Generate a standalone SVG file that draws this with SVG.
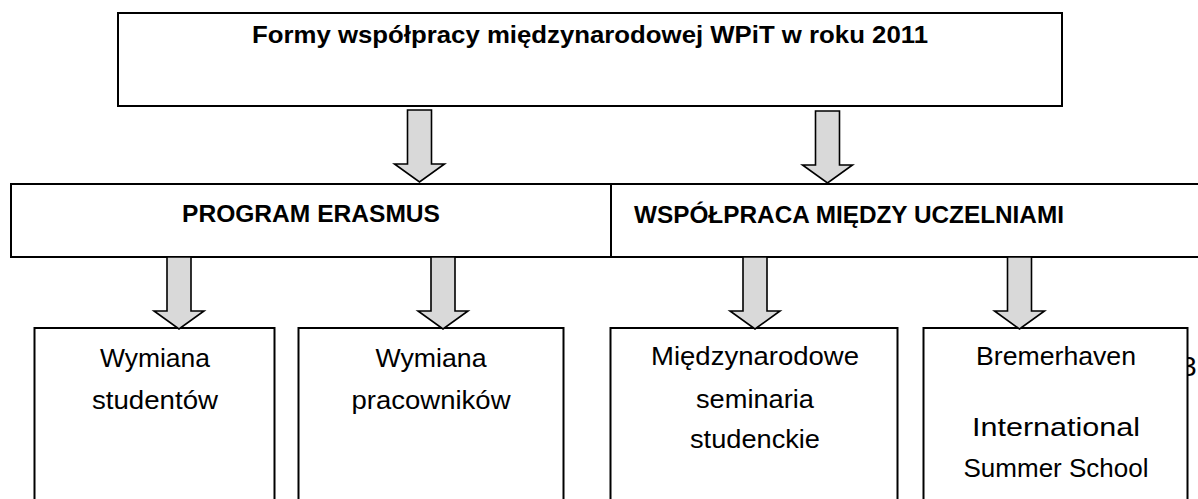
<svg xmlns="http://www.w3.org/2000/svg" width="1198" height="499" viewBox="0 0 1198 499">
  <style>
    .box { fill: #ffffff; stroke: #000000; stroke-width: 2; }
    .arrow { fill: #d9d9d9; stroke: #000000; stroke-width: 1.6; stroke-linejoin: miter; }
    .bold { font-family: "Liberation Sans", Arial, sans-serif; font-weight: bold; font-size: 24.5px; fill: #000000; }
    .reg { font-family: "Liberation Sans", Arial, sans-serif; font-size: 26px; fill: #000000; text-anchor: middle; }
  </style>
  <defs>
    <path id="arr" d="M -12 0 L 12 0 L 12 54 L 25 54 L 0 72 L -25 54 L -12 54 Z"/>
    <clipPath id="clip3">
      <rect x="1188" y="340" width="12" height="50"/>
    </clipPath>
  </defs>
  <rect width="1198" height="499" fill="#ffffff"/>

  <text x="1181" y="376" clip-path="url(#clip3)" style="font-family:'Liberation Sans',Arial,sans-serif;font-size:28px;fill:#000000">3</text>

  <g id="node-top">
    <rect class="box" x="118" y="13" width="944" height="93"/>
    <text class="bold" x="590" y="43" text-anchor="middle" textLength="676" lengthAdjust="spacingAndGlyphs">Formy współpracy międzynarodowej WPiT w roku 2011</text>
  </g>

  <g id="node-erasmus">
    <rect class="box" x="11" y="184" width="600" height="73"/>
    <text class="bold" x="311" y="222" text-anchor="middle" textLength="258" lengthAdjust="spacingAndGlyphs">PROGRAM ERASMUS</text>
  </g>

  <g id="node-wspolpraca">
    <rect class="box" x="611" y="184" width="600" height="73"/>
    <text class="bold" x="634" y="223" textLength="430" lengthAdjust="spacingAndGlyphs">WSPÓŁPRACA MIĘDZY UCZELNIAMI</text>
  </g>

  <g id="node-studenci">
    <rect class="box" x="34.5" y="328" width="240" height="190"/>
    <text class="reg" x="155" y="367" textLength="110" lengthAdjust="spacingAndGlyphs">Wymiana</text>
    <text class="reg" x="155" y="409" textLength="126" lengthAdjust="spacingAndGlyphs">studentów</text>
  </g>

  <g id="node-pracownicy">
    <rect class="box" x="298.5" y="328" width="265" height="190"/>
    <text class="reg" x="431" y="367" textLength="111" lengthAdjust="spacingAndGlyphs">Wymiana</text>
    <text class="reg" x="431" y="409" textLength="159" lengthAdjust="spacingAndGlyphs">pracowników</text>
  </g>

  <g id="node-seminaria">
    <rect class="box" x="610.5" y="328" width="287" height="190"/>
    <text class="reg" x="755" y="365" textLength="208" lengthAdjust="spacingAndGlyphs">Międzynarodowe</text>
    <text class="reg" x="755" y="408" textLength="118" lengthAdjust="spacingAndGlyphs">seminaria</text>
    <text class="reg" x="755" y="448" textLength="130" lengthAdjust="spacingAndGlyphs">studenckie</text>
  </g>

  <g id="node-bremerhaven">
    <rect class="box" x="923.5" y="328" width="264" height="190"/>
    <text class="reg" x="1056" y="365" textLength="160" lengthAdjust="spacingAndGlyphs">Bremerhaven</text>
    <text class="reg" x="1056" y="436" textLength="168" lengthAdjust="spacingAndGlyphs">International</text>
    <text class="reg" x="1056" y="477" textLength="185" lengthAdjust="spacingAndGlyphs">Summer School</text>
  </g>

  <g id="connectors">
    <use href="#arr" class="arrow" transform="translate(419.5,110)"/>
    <use href="#arr" class="arrow" transform="translate(827.5,111)"/>
    <use href="#arr" class="arrow" transform="translate(179,257)"/>
    <use href="#arr" class="arrow" transform="translate(443,257)"/>
    <use href="#arr" class="arrow" transform="translate(755,257)"/>
    <use href="#arr" class="arrow" transform="translate(1019.5,257)"/>
  </g>
</svg>
